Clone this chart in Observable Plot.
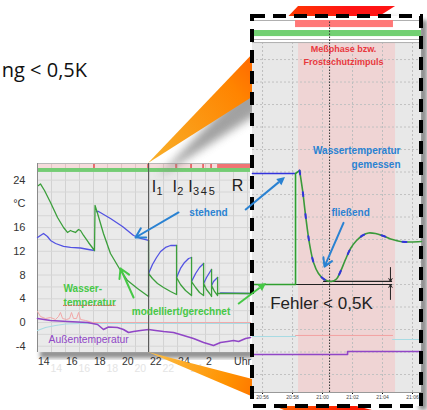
<!DOCTYPE html>
<html><head><meta charset="utf-8">
<script src="https://cdn.jsdelivr.net/npm/d3@7"></script>
<script src="https://cdn.jsdelivr.net/npm/@observablehq/plot@0.6"></script>
<style>
html,body{margin:0;padding:0;background:#fff;}
#wrap{position:relative;width:427px;height:410px;overflow:hidden;background:#fff;}
</style></head><body><div id="wrap"></div>
<script>
// ---------------- MAIN CHART DATA (hours since midnight, °C) ----------------
const hourTicks = [14, 16, 18, 20, 22, 24, 26, 28];
const hourTickLabels = ["14", "16", "18", "20", "22", "24", "2", "Uhr"];
const tempTicks = [-4, 0, 4, 8, 12, 16, 20, 24];
const tempTickLabels = ["-4", "0", "4", "8", "12", "16", "°C", "24"];
const statusImpulses = [18.07, 21.93, 23.93, 25.0, 25.86, 26.43];
const rephaseFrom = 26.86;
const zoomedImpulse = 21.93;

const waterModel = [
  [14.07,23.10],[14.21,23.36],[14.50,22.26],[14.93,20.24],[15.43,17.71],[15.86,16.02],[16.14,15.18],[16.36,15.51],
  [16.50,15.35],[16.71,15.18],[16.93,15.68],[17.07,15.51],[17.29,14.67],[17.64,13.49],[18.07,12.14],[18.11,19.73],
  [18.29,18.38],[18.71,15.01],[19.21,11.64],[19.93,8.77],[20.43,7.08],[21.14,5.73],[21.93,4.38],[21.93,13.83],
  [21.93,8.26],[22.21,7.42],[22.57,6.58],[23.00,5.90],[23.50,5.23],[23.93,4.72],[23.93,12.98],[23.93,7.59],
  [24.21,6.41],[24.57,5.40],[25.00,4.55],[25.00,10.96],[25.00,6.91],[25.29,5.90],[25.57,5.06],[25.86,4.55],
  [25.86,9.95],[25.86,6.58],[26.07,5.56],[26.29,4.89],[26.43,4.38],[26.43,8.94],[26.43,6.24],[26.64,5.23],
  [26.86,4.55],[26.86,7.59],[26.86,4.89],[29.21,4.89]
];
const waterMeasuredSegments = [
  [[14.00,14.33],[14.21,14.67],[14.43,15.01],[14.71,14.50],[14.93,13.83],[15.29,13.32],[15.86,12.82],[16.36,12.65],[17.07,12.56],[17.64,12.31],[18.07,12.14]],
  [[18.21,18.72],[18.36,18.72],[19.21,17.54],[20.07,16.19],[20.86,14.67],[21.36,14.17],[21.93,13.83]],
  [[21.93,8.26],[22.21,9.78],[22.50,10.96],[22.79,11.97],[23.14,12.65],[23.50,12.98],[23.93,12.98]],
  [[23.93,7.59],[24.21,9.11],[24.50,10.12],[24.79,10.79],[25.00,10.96]],
  [[25.00,6.91],[25.29,8.26],[25.57,9.27],[25.86,9.95]],
  [[25.86,6.58],[26.07,7.59],[26.29,8.43],[26.43,8.94]],
  [[26.43,6.24],[26.57,6.91],[26.71,7.25],[26.86,7.59]],
  [[27.07,4.97],[29.21,4.89]]
];
const outsideTemp = [
  [14.00,0.67],[14.93,0.34],[16.14,0.17],[17.57,0.00],[18.29,-0.34],[18.71,-1.18],[19.07,-0.76],[19.71,-0.84],
  [20.14,-1.18],[20.50,-1.69],[20.86,-1.52],[21.36,-1.35],[21.93,-1.18],[22.43,-1.35],[23.00,-1.52],[23.71,-1.69],
  [24.43,-2.19],[25.14,-2.70],[25.86,-3.37],[26.57,-3.88],[27.07,-3.37],[27.57,-3.20],[28.00,-3.04],[28.36,-3.20],
  [28.86,-2.70],[29.21,-2.53]
];
const pinkSensor = [
  [14.00,1.85],[14.21,1.01],[14.57,0.67],[14.93,0.84],[15.29,0.51],[15.50,1.01],[15.64,1.69],[15.79,0.67],
  [16.07,0.51],[16.29,0.67],[16.43,1.69],[16.57,0.67],[16.79,0.67],[16.93,1.69],[17.07,0.51],[17.43,0.34],
  [17.93,0.00],[29.21,0.00]
];
const cyanSensor = [[14.00,-1.35],[14.57,-0.84],[15.29,-0.51],[16.00,-0.25],[17.07,-0.17],[18.50,-0.17],[29.21,-0.17]];

// ---------------- INSET DATA (minutes after 20:00, °C) ----------------
const insetTicks = [56, 58, 60, 62, 64, 66];
const insetGridTemps = [-4, -2, 0, 2, 4, 6, 8, 10, 12, 14, 16, 18, 20, 22, 24];
const insetPhase = [58.4, 64.87];
const insetRedStatus = [58.2, 64.73];
const insetImpulse = 60.47;
const insetStanding = [[55.33,13.87],[58.2,13.87]];
const insetModelStep = [[55.33,4.0],[58.2,4.0],[58.2,13.87],[58.47,14.13]];
const insetFlowing = [
  [58.47,14.13],[58.67,12.36],[58.87,10.13],[59.13,7.64],[59.40,5.96],[59.73,4.98],[60.13,4.44],[60.60,4.27],
  [60.93,4.49],[61.20,5.16],[61.53,6.22],[61.87,7.20],[62.27,7.91],[62.67,8.36],[63.07,8.58],[63.53,8.53],
  [64.07,8.31],[64.67,8.00],[65.20,7.82],[65.87,7.78],[66.60,7.82]
];
const insetOutside = [[55.33,-2.22],[61.67,-2.22],[61.67,-1.96],[66.6,-1.96]];
const insetPink = [[58.2,-0.53],[64.67,-0.53]];
const insetCyan = [[[55.33,-0.62],[58.2,-0.62]], [[64.67,-0.89],[66.6,-0.89]]];
const errorModel = 4.0, errorMeasured = 4.27;

// ---------------- MAIN CHART ----------------
const X0 = 14, X1 = 29.21, Y0 = -5.06, Y1 = 26.81, PLOT_TOP = 25.3;
const xLab = new Map(hourTicks.map((t, i) => [t, hourTickLabels[i]]));
const yLab = new Map(tempTicks.map((t, i) => [t, tempTickLabels[i]]));
const hourGrid = d3.range(14, 30, 1);
const tempGrid = d3.range(-4, 26, 2);
const measuredFlat = waterMeasuredSegments.flatMap((s, k) => s.map(p => ({h: p[0], v: p[1], seg: k})));
const FONT = "'Liberation Sans', Arial, sans-serif";
const BLUE_T = "#2a82d2", GREEN_T = "#46c846";

const mainChart = Plot.plot({
  width: 250, height: 410,
  marginLeft: 37, marginRight: 0, marginTop: 163, marginBottom: 58,
  x: {domain: [X0, X1]},
  y: {domain: [Y0, Y1]},
  style: {background: "transparent", fontFamily: FONT, fontSize: "11px", overflow: "visible"},
  marks: [
    Plot.rect([0], {x1: X0, x2: X1, y1: Y0, y2: PLOT_TOP, fill: "#eaeaea"}),
    Plot.ruleX(hourGrid, {y1: Y0, y2: PLOT_TOP, stroke: "#d2d2d2"}),
    Plot.ruleY(tempGrid, {x1: X0, x2: X1, stroke: "#d6d6d6"}),
    Plot.rect([0], {x1: X0, x2: X1, y1: PLOT_TOP, y2: 25.97, fill: "#74cc74"}),
    Plot.rect([0], {x1: X0, x2: X1, y1: 25.97, y2: Y1, fill: "#f6dcdc"}),
    Plot.ruleX(hourGrid, {y1: 25.97, y2: Y1, stroke: "#e2c4c4"}),
    Plot.rect(statusImpulses, {x1: d => d - 0.06, x2: d => d + 0.06, y1: 25.97, y2: Y1, fill: "#e65e5e"}),
    Plot.rect([rephaseFrom], {x1: d => d, x2: X1, y1: 25.97, y2: Y1, fill: "#f07474"}),
    Plot.ruleY([Y1], {x1: X0, x2: X1, stroke: "#b8b8b8"}),
    Plot.ruleX([X0], {y1: Y0, y2: Y1, stroke: "#8a8a8a"}),
    Plot.axisY({ticks: tempTicks, anchor: "left", tickSize: 0, tickPadding: 12, tickFormat: d => yLab.get(d), fill: "#333", fontSize: 11, label: null}),
    Plot.axisX({ticks: hourTicks.slice(0, 6), anchor: "bottom", tickSize: 0, tickPadding: 12, textAnchor: "start", dx: 13, tickFormat: d => xLab.get(d), fill: "#e4e4e4", fontSize: 10.5, label: null}),
    Plot.axisX({ticks: hourTicks, anchor: "bottom", tickSize: 0, tickPadding: 5, textAnchor: "start", dx: 0.5, tickFormat: d => xLab.get(d), fill: "#333", fontSize: 10.5, label: null}),
    Plot.line(cyanSensor, {x: d => d[0], y: d => d[1], stroke: "#a8dbe3", strokeWidth: 1.2}),
    Plot.line(pinkSensor, {x: d => d[0], y: d => d[1], stroke: "#f2a8a8", strokeWidth: 1}),
    Plot.line(outsideTemp, {x: d => d[0], y: d => d[1], stroke: "#9046c6", strokeWidth: 1.6}),
    Plot.line(measuredFlat, {x: "h", y: "v", z: "seg", stroke: "#5252e2", strokeWidth: 1.3}),
    Plot.line(waterModel, {x: d => d[0], y: d => d[1], stroke: "#3b9f3b", strokeWidth: 1.3}),
    Plot.ruleX([zoomedImpulse], {y1: Y0, y2: Y1, stroke: "#555", strokeWidth: 1}),
    Plot.text(["I", "I", "I"], {x: [22.32, 23.79, 24.93], y: 22.9, fontSize: 16, fill: "#222"}),
    Plot.text(["1", "2", "3", "4", "5"], {x: [22.72, 24.19, 25.33, 25.88, 26.45], y: 22.1, fontSize: 11, fill: "#222"}),
    Plot.text(["R"], {x: 28.29, y: 23.1, fontSize: 16, fill: "#222"}),
    Plot.text(["stehend"], {x: 26.21, y: 18.55, fill: BLUE_T, fontWeight: "bold", fontSize: 10}),
    Plot.arrow([0], {x1: 24.07, y1: 18.55, x2: 21.0, y2: 14.33, stroke: BLUE_T, strokeWidth: 2, headLength: 8}),
    Plot.text(["Wasser-\ntemperatur"], {x: 15.86, y: 4.72, textAnchor: "start", lineHeight: 1.4, fill: GREEN_T, fontWeight: "bold", fontSize: 10}),
    Plot.ruleY([2.87], {x1: 15.86, x2: 19.64, stroke: "#e06060", strokeDasharray: "1.5,1"}),
    Plot.arrow([0], {x1: 20.86, y1: 4.22, x2: 19.93, y2: 9.11, stroke: GREEN_T, strokeWidth: 2, headLength: 8}),
    Plot.text(["modelliert/gerechnet"], {x: 24.25, y: 1.85, fill: GREEN_T, fontWeight: "bold", fontSize: 10}),
    Plot.text(["Außentemperatur"], {x: 14.79, y: -2.87, textAnchor: "start", fill: "#9046c6", fontSize: 10.3})
  ]
});

// ---------------- INSET CHART ----------------
const IX0 = 55.33, IX1 = 66.6, IY0 = -5.6, IY1 = 27.47, IPLOT_TOP = 25.51;
const clock = m => `${m < 60 ? 20 : 21}:${String(m % 60).padStart(2, "0")}`;
const cyanFlat = insetCyan.flatMap((s, k) => s.map(p => ({m: p[0], v: p[1], seg: k})));
const insetChart = Plot.plot({
  width: 169, height: 390,
  marginLeft: 0, marginRight: 0, marginTop: 4, marginBottom: 14,
  x: {domain: [IX0, IX1]},
  y: {domain: [IY0, IY1], axis: null},
  style: {background: "#fff", fontFamily: FONT, fontSize: "10px", overflow: "visible"},
  marks: [
    Plot.rect([0], {x1: IX0, x2: IX1, y1: IY0, y2: IPLOT_TOP, fill: "#e8e8e8"}),
    Plot.rect([insetPhase], {x1: d => d[0], x2: d => d[1], y1: IY0, y2: IPLOT_TOP, fill: "#efd4d4"}),
    Plot.ruleX(insetTicks, {y1: IY0, y2: IPLOT_TOP, stroke: "#bdbdbd", strokeDasharray: "2,2"}),
    Plot.ruleY(insetGridTemps, {x1: IX0, x2: IX1, stroke: "#c2c2c2", strokeDasharray: "2,2"}),
    Plot.ruleY([IY1, 25.78, IPLOT_TOP], {x1: IX0, x2: IX1, stroke: "#b0b0b0"}),
    Plot.rect([insetRedStatus], {x1: d => d[0], x2: d => d[1], y1: 26.84, y2: IY1, fill: "#ff7878"}),
    Plot.rect([0], {x1: IX0, x2: IX1, y1: 26.04, y2: 26.58, fill: "#72d072"}),
    Plot.ruleX([insetImpulse], {y1: IY0, y2: IY1, stroke: "#333", strokeDasharray: "1.5,1.5"}),
    Plot.axisX({ticks: insetTicks, anchor: "bottom", tickSize: 2, tickPadding: 1, fontSize: 5, tickFormat: clock, fill: "#444", label: null}),
    Plot.ruleY([IY0], {x1: IX0, x2: IX1, stroke: "#999"}),
    Plot.line(cyanFlat, {x: "m", y: "v", z: "seg", stroke: "#a8dbe3", strokeWidth: 1.2}),
    Plot.line(insetPink, {x: d => d[0], y: d => d[1], stroke: "#f2a2a2", strokeWidth: 1}),
    Plot.line(insetOutside, {x: d => d[0], y: d => d[1], stroke: "#9046c6", strokeWidth: 1.6}),
    Plot.ruleY([errorModel], {x1: insetModelStep[1][0], x2: 64.67, stroke: "#222", strokeWidth: 1.2}),
    Plot.ruleY([errorMeasured], {x1: 60.07, x2: 64.67, stroke: "#222", strokeWidth: 1.2}),
    Plot.arrow([0], {x1: 64.53, y1: 5.51, x2: 64.53, y2: errorMeasured, stroke: "#222", strokeWidth: 1, headLength: 5}),
    Plot.arrow([0], {x1: 64.53, y1: 2.67, x2: 64.53, y2: errorModel, stroke: "#222", strokeWidth: 1, headLength: 5}),
    Plot.line(insetStanding, {x: d => d[0], y: d => d[1], stroke: "#3333dd", strokeWidth: 1.6}),
    Plot.line(insetModelStep, {x: d => d[0], y: d => d[1], stroke: "#2fa02f", strokeWidth: 1.6}),
    Plot.line(insetFlowing, {x: d => d[0], y: d => d[1], curve: "catmull-rom", stroke: "#3a9a3a", strokeWidth: 1.6}),
    Plot.line(insetFlowing, {x: d => d[0], y: d => d[1], curve: "catmull-rom", stroke: "#3333dd", strokeWidth: 2, strokeDasharray: "4,18"}),
    Plot.text(["Meßphase bzw.\nFrostschutzimpuls"], {x: 61.4, y: 24.49, lineHeight: 1.45, fontSize: 9, fontWeight: "bold", fill: "#e8383d"}),
    Plot.text(["Wassertemperatur\ngemessen"], {x: 65.2, y: 15.38, textAnchor: "end", lineHeight: 1.4, fontSize: 10, fontWeight: "bold", fill: BLUE_T}),
    Plot.text(["fließend"], {x: 61.87, y: 10.4, fontSize: 10, fontWeight: "bold", fill: BLUE_T}),
    Plot.arrow([0], {x1: 61.4, y1: 9.48, x2: 60.13, y2: 5.59, stroke: BLUE_T, strokeWidth: 2, headLength: 7}),
    Plot.text(["Fehler < 0,5K"], {x: 59.93, y: 2.31, fontSize: 17, fill: "#222"})
  ]
});

// ---------------- LAYOUT ----------------
const wrap = document.getElementById("wrap");
const INSET_L = 252, INSET_T = 16, INSET_W = 169, INSET_H = 390;
function layer(z) {
  const s = d3.create("svg").attr("width", 427).attr("height", 410)
    .style("position", "absolute").style("left", "0px").style("top", "0px").style("z-index", z);
  wrap.appendChild(s.node());
  return s;
}
function place(node, left, topPx, z) {
  node.style.position = "absolute"; node.style.left = left + "px"; node.style.top = topPx + "px";
  node.style.zIndex = z; node.style.maxWidth = "none";
  wrap.appendChild(node);
}
const mx = mainChart.scale("x"), my = mainChart.scale("y"), ix = insetChart.scale("x"), iy = insetChart.scale("y");
const M = (h, v) => [mx.apply(h), my.apply(v)];
const I = (m, v) => [INSET_L + ix.apply(m), INSET_T + iy.apply(v)];

// shadows under everything
const backL = layer(0);
const bdefs = backL.append("defs");
bdefs.append("filter").attr("id", "blur2").attr("x", "-20%").attr("y", "-20%").attr("width", "140%").attr("height", "140%")
  .append("feGaussianBlur").attr("stdDeviation", 2);
const [pl, pb] = M(X0, Y0), [pr] = M(X1, Y0);
backL.append("rect").attr("x", pl + 3).attr("y", pb - 2).attr("width", pr - pl).attr("height", 8)
  .attr("fill", "#8f8f8f").attr("filter", "url(#blur2)");
place(mainChart, 0, 0, 1);

// callout triangles
const triL = layer(2);
const defs = triL.append("defs");
defs.append("filter").attr("id", "blur4").attr("x", "-30%").attr("y", "-30%").attr("width", "160%").attr("height", "160%")
  .append("feGaussianBlur").attr("stdDeviation", 4);
defs.append("filter").attr("id", "blur2b").attr("x", "-50%").attr("y", "-10%").attr("width", "200%").attr("height", "120%")
  .append("feGaussianBlur").attr("stdDeviation", 2);
const apexTop = M(zoomedImpulse, Y1), apexBot = M(zoomedImpulse, Y0);
const farTop = [I(insetPhase[0], IY1), I(insetPhase[1], IY1)].map(p => [p[0], INSET_T - 10]);
const farBot = [I(insetPhase[0], IY0), I(insetPhase[1], IY0)].map(p => [p[0], INSET_T + INSET_H + 10]);
function grad(id, a, b, stops) {
  const g = defs.append("linearGradient").attr("id", id).attr("gradientUnits", "userSpaceOnUse")
    .attr("x1", a[0]).attr("y1", a[1]).attr("x2", b[0]).attr("y2", b[1]);
  stops.forEach(([o, c]) => g.append("stop").attr("offset", o).attr("stop-color", c));
}
const mid = ps => [(ps[0][0] + ps[1][0]) / 2, (ps[0][1] + ps[1][1]) / 2];
grad("gTop", apexTop, mid(farTop), [[0, "#f8b02a"], [0.45, "#ff8400"], [0.8, "#ff3a00"], [1, "#ff1414"]]);
grad("gBot", apexBot, mid(farBot), [[0, "#fcbf48"], [0.4, "#ff9200"], [0.75, "#ff5200"], [1, "#ff1a00"]]);
const poly = pts => "M" + pts.map(p => p.join(",")).join("L") + "Z";
triL.append("path").attr("d", poly([apexTop, farTop[0], farTop[1]])).attr("transform", "translate(10,14)")
  .attr("fill", "#8a8a8a").attr("opacity", 0.8).attr("filter", "url(#blur4)");
triL.append("path").attr("d", poly([apexTop, farTop[0], farTop[1]])).attr("fill", "url(#gTop)");
triL.append("path").attr("d", poly([apexBot, farBot[0], farBot[1]])).attr("fill", "url(#gBot)");
triL.append("rect").attr("x", INSET_L + INSET_W - 2).attr("y", INSET_T + 4).attr("width", 8).attr("height", INSET_H)
  .attr("fill", "#8c8c8c").attr("filter", "url(#blur2b)");

place(insetChart, INSET_L, INSET_T, 3);

// top overlay: dashed frame, cross-chart arrows, title
const topL = layer(4);
topL.append("rect").attr("x", INSET_L).attr("y", INSET_T).attr("width", INSET_W).attr("height", INSET_H)
  .attr("fill", "none").attr("stroke", "#000").attr("stroke-width", 4).attr("stroke-dasharray", "13,8");
function arrow(a, b, color) {
  const ang = Math.atan2(b[1] - a[1], b[0] - a[0]), L = 8, W = 4;
  const bx = b[0] - L * Math.cos(ang), by = b[1] - L * Math.sin(ang);
  topL.append("line").attr("x1", a[0]).attr("y1", a[1]).attr("x2", bx).attr("y2", by)
    .attr("stroke", color).attr("stroke-width", 2);
  topL.append("path").attr("fill", color).attr("d",
    `M${b[0]},${b[1]}L${bx - W * Math.sin(ang)},${by + W * Math.cos(ang)}L${bx + W * Math.sin(ang)},${by - W * Math.cos(ang)}Z`);
}
arrow(M(28.86, 18.89), I(57.53, 13.51), BLUE_T);
arrow(M(28.36, 3.04), I(56.27, 4.09), GREEN_T);
topL.append("text").attr("x", 87).attr("y", 77).attr("text-anchor", "end")
  .attr("font-family", "'Open Sans', sans-serif").attr("font-size", 20).attr("fill", "#111")
  .text("ng < 0,5K");
</script></body></html>
